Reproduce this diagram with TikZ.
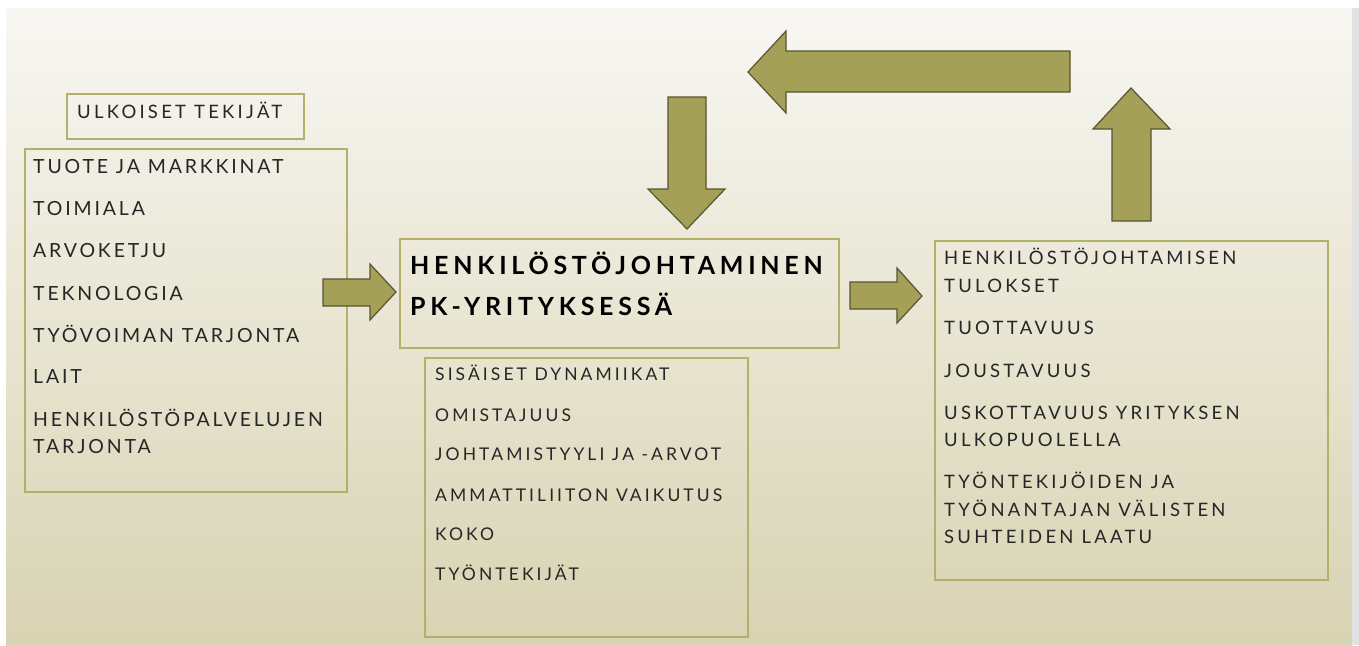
\documentclass[tikz,border=0pt]{standalone}
\usepackage{fontspec}
\setmainfont{Lato}
\newfontfamily\bodyA[LetterSpace=14.5]{Lato}
\newfontfamily\bodyB[LetterSpace=17.5]{Lato}
\newfontfamily\headfont[LetterSpace=19]{Lato}
\definecolor{framecol}{RGB}{180,175,105}
\definecolor{arrowfill}{RGB}{165,160,88}
\definecolor{arrowline}{RGB}{88,84,48}
\definecolor{bgtop}{RGB}{248,247,243}
\definecolor{bgbot}{RGB}{216,211,178}
\definecolor{strip}{RGB}{226,226,226}
\definecolor{txtcol}{RGB}{38,38,38}
\tikzset{
  frame/.style={draw=framecol, line width=1.6pt, inner sep=0pt, anchor=north west},
  blockarrow/.style={fill=arrowfill, draw=arrowline, line width=1.2pt, line join=miter},
  itm/.style={anchor=base west, inner sep=0pt, text=txtcol},
  big/.style={itm, font=\bodyA\fontsize{19.5}{23}\selectfont},
  mid/.style={itm, font=\bodyB\fontsize{18.5}{22}\selectfont},
  sml/.style={itm, font=\bodyB\fontsize{17.5}{21}\selectfont},
  ttl/.style={anchor=base west, inner sep=0pt, text=black, font=\headfont\bfseries\fontsize{25}{30}\selectfont}
}
\begin{document}
\begin{tikzpicture}[x=1pt,y=-1pt]
\useasboundingbox (0,0) rectangle (1359,645);
\fill[white] (0,0) rectangle (1359,645);
\shade[top color=bgtop, bottom color=bgbot] (6,8) rectangle (1352,645);
\fill[strip] (1352,8) rectangle (1359,645);

% frames
\node[frame, minimum width=237pt, minimum height=45pt] (ulk) at (66,93) {};
\node[frame, minimum width=322pt, minimum height=343pt] (ext) at (24,148) {};
\node[frame, minimum width=439pt, minimum height=109pt] (hr) at (399,238) {};
\node[frame, minimum width=323pt, minimum height=279pt] (int) at (424,357) {};
\node[frame, minimum width=393pt, minimum height=339pt] (res) at (934,240) {};

% texts
\node[mid] (ulkt) at (77,118) {ULKOISET TEKIJÄT};

\foreach \t/\y [count=\i] in {TUOTE JA MARKKINAT/173, TOIMIALA/215, ARVOKETJU/257, TEKNOLOGIA/300,
  TYÖVOIMAN TARJONTA/342, LAIT/383, HENKILÖSTÖPALVELUJEN/426, TARJONTA/453}
  \node[big] (ext\i) at (33,\y) {\t};

\node[ttl] (hrt1) at (410,274) {HENKILÖSTÖJOHTAMINEN};
\node[ttl] (hrt2) at (410,315) {PK-YRITYKSESSÄ};

\foreach \t/\y [count=\i] in {SISÄISET DYNAMIIKAT/380, OMISTAJUUS/421, JOHTAMISTYYLI JA -ARVOT/460,
  AMMATTILIITON VAIKUTUS/501, KOKO/540, TYÖNTEKIJÄT/580}
  \node[sml] (int\i) at (435,\y) {\t};

\foreach \t/\y [count=\i] in {HENKILÖSTÖJOHTAMISEN/264, TULOKSET/292, TUOTTAVUUS/334, JOUSTAVUUS/377,
  USKOTTAVUUS YRITYKSEN/419, ULKOPUOLELLA/446, TYÖNTEKIJÖIDEN JA/488,
  TYÖNANTAJAN VÄLISTEN/516, SUHTEIDEN LAATU/543}
  \node[mid] (res\i) at (944,\y) {\t};

% block arrows
\draw[blockarrow] (323,279) -- (370,279) -- (370,264) -- (396,292) -- (370,320) -- (370,306) -- (323,306) -- cycle;
\draw[blockarrow] (850,282) -- (897,282) -- (897,268) -- (922,296) -- (897,323) -- (897,309) -- (850,309) -- cycle;
\draw[blockarrow] (668,97) -- (706,97) -- (706,189) -- (725,189) -- (687,229) -- (648,189) -- (668,189) -- cycle;
\draw[blockarrow] (1070,51) -- (786,51) -- (786,31) -- (748,72) -- (786,113) -- (786,92) -- (1070,92) -- cycle;
\draw[blockarrow] (1112,221) -- (1112,129) -- (1093,129) -- (1131,88) -- (1170,129) -- (1151,129) -- (1151,221) -- cycle;
\end{tikzpicture}
\end{document}
